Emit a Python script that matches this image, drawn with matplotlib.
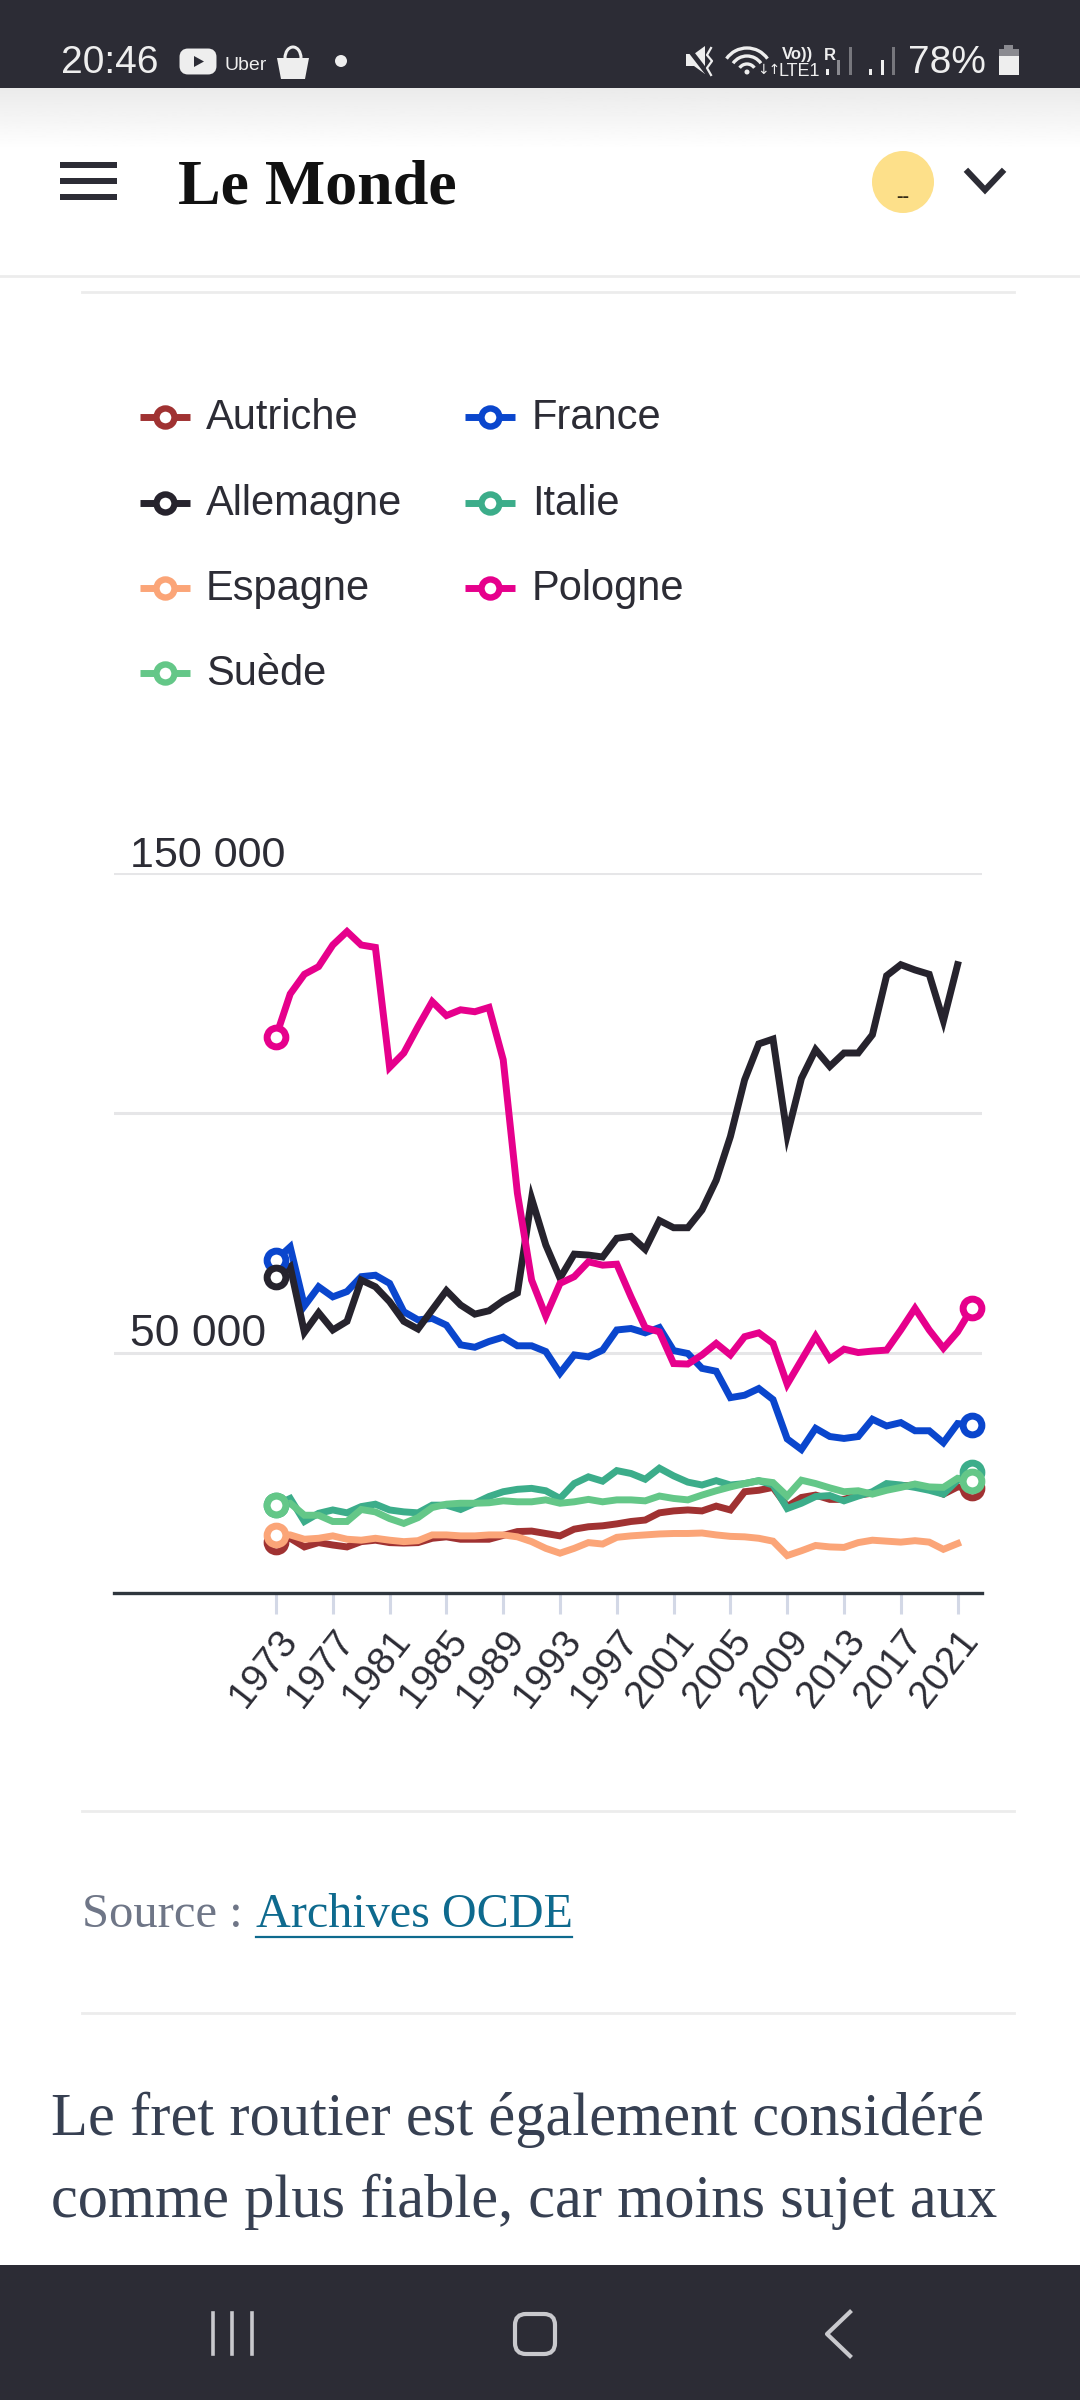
import numpy as np
import matplotlib
matplotlib.use("Agg")
import matplotlib.pyplot as plt
from matplotlib.patches import Rectangle, Circle, FancyBboxPatch, Polygon, Arc
from matplotlib.transforms import blended_transform_factory

years = list(range(1973, 2023))
tick_years = list(range(1973, 2022, 4))
grid_values = [50, 100, 150]

# values in thousands
autriche = [10.7, 11.4, 9.6, 10.5, 10.0, 9.6, 10.7, 11.0, 10.5, 10.4,
            10.5, 11.4, 11.7, 11.2, 11.2, 11.2, 12.0, 12.8, 12.9, 12.4,
            11.9, 13.3, 13.8, 14.0, 14.4, 14.9, 15.2, 16.7, 17.1, 17.3,
            17.1, 18.1, 17.3, 21.1, 21.4, 22.0, 18.0, 19.9, 20.4, 19.5,
            19.5, 20.4, 20.8, 21.8, 22.3, 22.5, 21.8, 20.6, 22.1, 21.8]
allemagne = [65.9, 68.0, 54.3, 58.4, 54.8, 56.6, 65.2, 63.8, 60.7, 56.6,
             55.0, 59.0, 63.0, 60.0, 58.1, 58.8, 60.9, 62.5, 82.2, 72.5,
             65.6, 70.6, 70.4, 70.0, 73.9, 74.3, 71.6, 77.6, 76.1, 76.1,
             79.8, 86.0, 95.1, 106.9, 114.4, 115.4, 95.4, 107.2, 113.2, 109.7,
             112.5, 112.5, 116.3, 128.6, 130.9, 129.8, 128.9, 119.2, 130.9, None]
espagne = [12.1, 12.1, 11.2, 11.4, 11.9, 11.2, 11.0, 11.4, 11.0, 10.7,
           10.9, 12.1, 12.1, 11.9, 11.9, 12.1, 12.1, 11.7, 10.7, 9.3,
           8.3, 9.3, 10.5, 10.2, 11.6, 11.9, 12.1, 12.3, 12.4, 12.4,
           12.5, 12.1, 11.8, 11.7, 11.4, 10.8, 7.8, 8.8, 9.9, 9.6,
           9.5, 10.5, 11.0, 10.8, 10.6, 10.9, 10.6, 9.1, 10.3, None]
france = [69.4, 72.1, 59.8, 63.8, 61.7, 62.8, 65.9, 66.2, 64.5, 58.6,
          56.9, 57.2, 55.8, 51.7, 51.2, 52.4, 53.3, 51.5, 51.5, 50.3,
          45.8, 49.6, 49.2, 50.6, 54.8, 55.1, 54.2, 55.3, 50.5, 49.9,
          46.8, 46.2, 40.7, 41.2, 42.6, 40.3, 32.1, 29.9, 34.3, 32.6,
          32.2, 32.6, 36.2, 34.8, 35.5, 33.8, 33.8, 31.3, 35.3, 35.0]
italie = [18.3, 19.7, 14.9, 16.6, 17.3, 16.7, 18.0, 18.5, 17.3, 16.9,
          16.7, 18.3, 18.3, 17.4, 18.7, 20.1, 21.1, 21.6, 21.8, 21.3,
          19.7, 22.8, 24.2, 23.3, 25.5, 24.9, 23.7, 26.0, 24.4, 23.1,
          22.5, 23.4, 22.5, 22.8, 23.4, 22.5, 17.6, 18.7, 20.1, 20.3,
          19.2, 20.2, 21.1, 22.8, 22.5, 22.0, 21.4, 20.6, 23.5, 25.3]
pologne = [115.9, 124.8, 128.9, 130.5, 135.0, 137.8, 135.0, 134.5, 109.5, 112.5,
           118.0, 123.2, 120.3, 121.5, 121.1, 122.0, 111.1, 83.3, 65.2, 57.7,
           64.5, 65.9, 69.0, 68.3, 68.5, 61.7, 55.3, 54.4, 47.8, 47.7,
           49.6, 52.0, 49.6, 53.4, 54.2, 52.0, 43.5, 48.5, 53.5, 48.7,
           50.8, 50.1, 50.4, 50.6, 54.8, 59.3, 54.8, 51.0, 54.4, 59.3]
suede = [18.3, 18.7, 16.2, 16.2, 14.9, 14.9, 17.4, 16.9, 15.5, 14.5,
         15.7, 17.8, 18.5, 18.7, 18.7, 18.8, 19.2, 19.0, 19.0, 19.4,
         18.7, 19.0, 19.5, 19.0, 19.4, 19.4, 19.2, 20.2, 19.7, 19.4,
         20.4, 21.3, 22.1, 22.8, 23.4, 23.0, 20.2, 23.5, 22.8, 21.9,
         21.1, 21.3, 20.6, 21.4, 22.0, 22.7, 22.1, 22.0, 23.9, 23.4]

RED = "#a03232"
BLACK = "#26232d"
ORANGE = "#fba578"
BLUE = "#0a46cd"
GREEN = "#3cad8a"
PINK = "#e6008c"
LIGHT = "#64c788"
DARK = "#2c2c35"
SANS = "Liberation Sans"
SERIF = "Liberation Serif"

# draw order, bottom to top
series = [(autriche, RED), (france, BLUE), (allemagne, BLACK), (espagne, ORANGE),
          (italie, GREEN), (pologne, PINK), (suede, LIGHT)]
legend_left = [("Autriche", RED), ("Allemagne", BLACK), ("Espagne", ORANGE), ("Suède", LIGHT)]
legend_right = [("France", BLUE), ("Italie", GREEN), ("Pologne", PINK)]

W, H = 1080, 2400
fig = plt.figure(figsize=(W / 100, H / 100), dpi=100, facecolor="white")

# page, in pixels
bg = fig.add_axes([0, 0, 1, 1])
bg.set_xlim(0, W)
bg.set_ylim(H, 0)
bg.axis("off")

# chart
left, right, top, bottom = 114, 982, 873, 1593
ax = fig.add_axes([left / W, 1 - bottom / H, (right - left) / W, (bottom - top) / H])
ax.patch.set_alpha(0)
ax.set_xlim(1973 - (276 - left) / 14.2, 1973 + (right - 276) / 14.2)
ax.set_ylim(0, 150)
for s in ["top", "left", "right"]:
    ax.spines[s].set_visible(False)
ax.spines["bottom"].set_color("#2f363d")
ax.spines["bottom"].set_linewidth(2.4)
ax.set_yticks(grid_values)
ax.tick_params(axis="y", length=0, labelleft=False)
ax.grid(axis="y", color="#e6e6e8", lw=2.2)
ax.set_axisbelow(True)
ax.set_xticks(tick_years)
ax.set_xticklabels([str(y) for y in tick_years], rotation=52, ha="right", va="top",
                   rotation_mode="anchor", fontsize=28, color=DARK, family=SANS)
ax.tick_params(axis="x", length=15, width=2.2, color="#d3d8e6", pad=7)

for vals, col in series:
    y = np.array([np.nan if v is None else v for v in vals], dtype=float)
    ax.plot(years, y, color=col, lw=5, solid_joinstyle="miter", clip_on=False, zorder=3)
for vals, col in series:
    ax.plot(years[0], vals[0], "o", ms=13.5, mew=5, mfc="white", mec=col, clip_on=False, zorder=4)
    if vals[-1] is not None:
        ax.plot(years[-1], vals[-1], "o", ms=13.5, mew=5, mfc="white", mec=col, clip_on=False, zorder=4)

label_tr = blended_transform_factory(ax.transAxes, ax.transData)
ax.annotate("150 000", (0, 150), xycoords=label_tr, xytext=(11.5, 4), textcoords="offset points",
            fontsize=31, color=DARK, family=SANS, va="baseline")
ax.annotate("50 000", (0, 50), xycoords=label_tr, xytext=(11.5, 5), textcoords="offset points",
            fontsize=32, color=DARK, family=SANS, va="baseline")

# legend
def legend_column(items, x0, x_text):
    for i, (name, col) in enumerate(items):
        yy = [417, 503, 588, 673][i]
        bg.plot([x0, x0 + 50], [yy, yy], color=col, lw=5, solid_capstyle="butt")
        bg.plot(x0 + 25, yy, "o", ms=13, mew=4.6, mfc="white", mec=col)
        bg.text(x_text, yy + 12, name, fontsize=30, color=DARK, family=SANS, va="baseline")

legend_column(legend_left, 140, 206)
legend_column(legend_right, 465, 532)

# status bar
bg.add_patch(Rectangle((0, 0), W, 88, color=DARK, lw=0))
shade = np.linspace(0.92, 1, 60).reshape(-1, 1)
bg.imshow(shade, extent=(0, W, 150, 88), cmap="gray", vmin=0, vmax=1, aspect="auto", zorder=0.5)
bg.set_xlim(0, W)
bg.set_ylim(H, 0)
ICON = "#eeeeee"
bg.text(61, 73, "20:46", fontsize=28, color=ICON, family=SANS, va="baseline")
bg.add_patch(FancyBboxPatch((183, 52), 30, 19, boxstyle="round,pad=0,rounding_size=5", fc=ICON, ec=ICON, lw=5))
bg.add_patch(Polygon([[194, 56], [194, 67], [204, 61.5]], color=DARK, lw=0))
bg.text(225, 70, "Uber", fontsize=14, color=ICON, family=SANS, va="baseline")
bg.add_patch(Polygon([[277, 58], [309, 58], [305, 79], [281, 79]], color=ICON, lw=0))
bg.add_patch(Arc((293, 58), 16, 22, theta1=180, theta2=360, color=ICON, lw=2.2))
bg.add_patch(Circle((341, 61), 6, color=ICON, lw=0))
bg.add_patch(Polygon([[686, 54], [694, 54], [705, 46], [705, 74], [694, 66], [686, 66]], color=ICON, lw=0))
bg.plot([688, 708], [48, 74], color=DARK, lw=3.5)
bg.plot([711, 707, 712, 707, 711], [48, 55, 61, 68, 75], color=ICON, lw=1.6)
for r in [50, 34, 18]:
    bg.add_patch(Arc((747, 73), r, r, theta1=215, theta2=325, color=ICON, lw=2.4))
bg.add_patch(Circle((747, 72), 2.5, color=ICON, lw=0))
bg.text(757, 74, "↓↑", fontsize=10, color=ICON, family="DejaVu Sans", va="baseline")
bg.text(782, 59, "Vo))", fontsize=12, color=ICON, family=SANS, weight="bold", va="baseline")
bg.text(779, 76, "LTE1", fontsize=13, color=ICON, family=SANS, va="baseline")
bg.text(824, 60, "R", fontsize=12, color=ICON, family=SANS, weight="bold", va="baseline")
for x, h, c in [(827, 6, ICON), (838, 15, "#8a8a90"), (850, 28, "#77777d"),
                (870, 6, ICON), (882, 15, ICON), (893, 28, "#77777d")]:
    bg.add_patch(Rectangle((x - 1.5, 75 - h), 3.5, h, color=c, lw=0))
bg.text(908, 73, "78%", fontsize=28, color=ICON, family=SANS, va="baseline")
bg.add_patch(Rectangle((1004, 45), 9, 6, color="#8a8a90", lw=0))
bg.add_patch(Rectangle((999, 49), 20, 8, color="#8a8a90", lw=0))
bg.add_patch(Rectangle((999, 56), 20, 19, color=ICON, lw=0))

# site header
for yy in [165, 181, 197]:
    bg.add_patch(Rectangle((60, yy - 3), 57, 6, color=DARK, lw=0))
bg.text(178, 204, "Le Monde", fontsize=46, color="#111111", family=SERIF, weight="bold", va="baseline")
bg.add_patch(Circle((903, 182), 31, color="#fde08a", lw=0))
bg.text(903, 202, "--", fontsize=14, color="#332a15", family=SANS, weight="bold", ha="center", va="baseline")
bg.plot([968, 985, 1002], [172, 190, 172], color=DARK, lw=4.4, solid_joinstyle="miter")
bg.plot([0, W], [276, 276], color="#ececec", lw=2)
for yy in [292, 1811, 2013]:
    bg.plot([82, 1014], [yy, yy], color="#ececec", lw=2)

# source and body text
bg.text(82, 1927, "Source :", fontsize=35, color="#6f7687", family=SERIF, va="baseline")
bg.text(256, 1927, "Archives OCDE", fontsize=34.7, color="#0e6a8e", family=SERIF, va="baseline")
bg.plot([256, 572], [1937, 1937], color="#0e6a8e", lw=1.6)
bg.text(51, 2135, "Le fret routier est également considéré", fontsize=43.6, color="#374052",
        family=SERIF, va="baseline")
bg.text(51, 2217, "comme plus fiable, car moins sujet aux", fontsize=43.6, color="#374052",
        family=SERIF, va="baseline")

# nav bar
bg.add_patch(Rectangle((0, 2265), W, 135, color=DARK, lw=0, zorder=5))
NAV = "#c9c9cd"
for x in [213, 232, 252]:
    bg.plot([x, x], [2313, 2354], color=NAV, lw=2.6, zorder=6)
bg.add_patch(FancyBboxPatch((515, 2314), 40, 40, boxstyle="round,pad=0,rounding_size=11", fc="none", ec=NAV, lw=3, zorder=6))
bg.plot([850, 827, 850], [2312, 2334, 2356], color=NAV, lw=3, zorder=6)

fig.savefig("out.png", dpi=100)
